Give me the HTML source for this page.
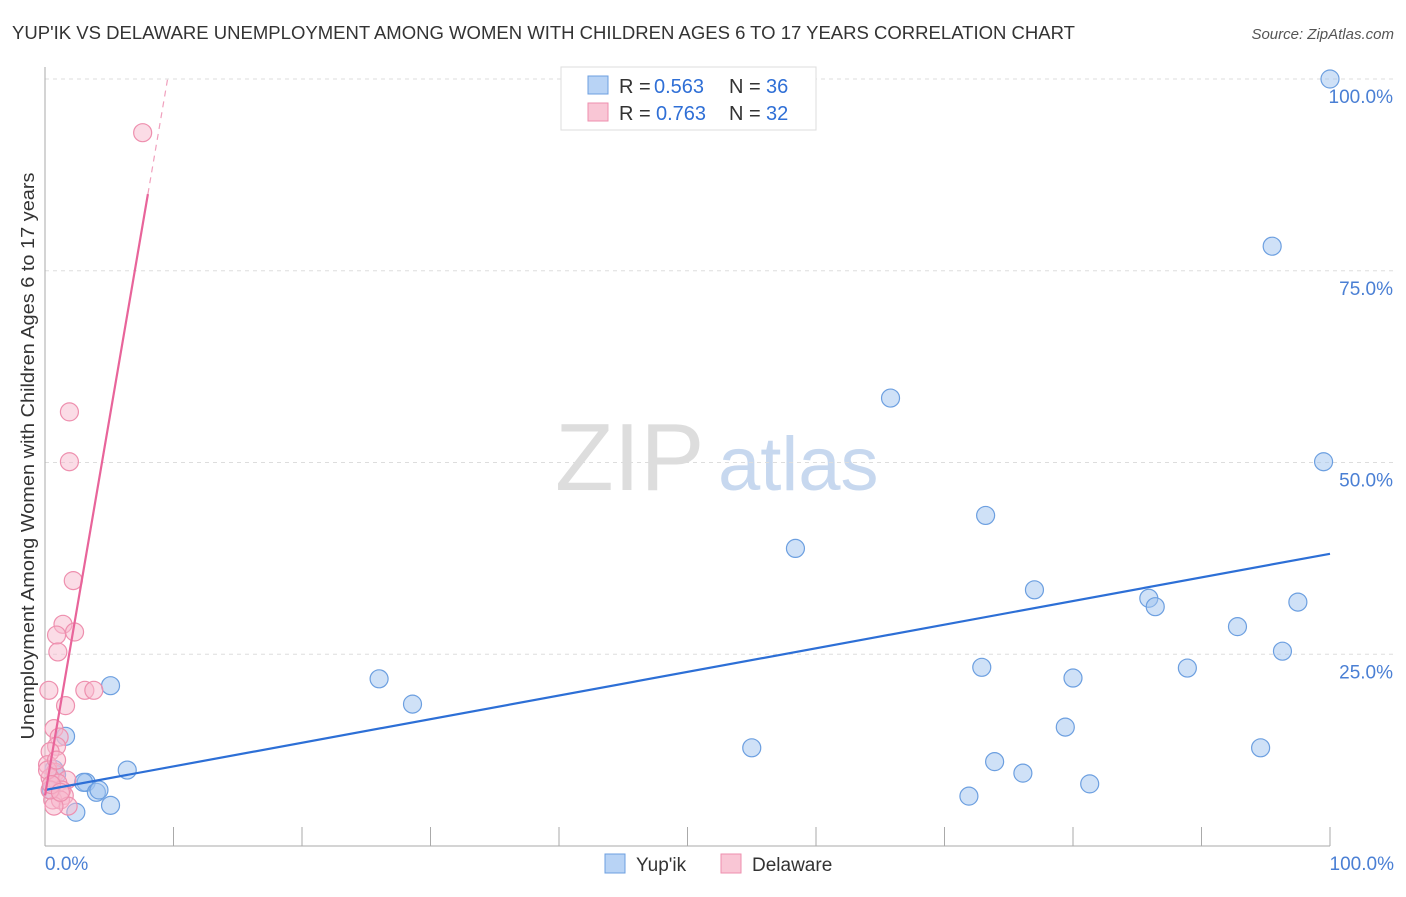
<!DOCTYPE html>
<html><head><meta charset="utf-8"><style>
body{margin:0;background:#fff;font-family:"Liberation Sans",sans-serif;}
svg text{font-family:"Liberation Sans",sans-serif;}
</style></head><body>
<svg id="c" width="1406" height="892">
<text x="12" y="39" font-size="18" fill="#333" textLength="1063" lengthAdjust="spacingAndGlyphs">YUP'IK VS DELAWARE UNEMPLOYMENT AMONG WOMEN WITH CHILDREN AGES 6 TO 17 YEARS CORRELATION CHART</text>
<text x="1394" y="39" font-size="15" fill="#555" font-style="italic" text-anchor="end">Source: ZipAtlas.com</text>
<text x="34" y="456" font-size="18" fill="#333" text-anchor="middle" textLength="567" lengthAdjust="spacingAndGlyphs" transform="rotate(-90 34 456)">Unemployment Among Women with Children Ages 6 to 17 years</text>
<text x="555" y="490" font-size="96" fill="#ddd" font-family="Liberation Serif">ZIP</text>
<text x="718" y="490" font-size="76" fill="#c7d8ef">atlas</text>
<g id="grid"></g><g id="axes"></g><g id="pts"></g><g id="trend"></g>
<g>
<rect x="561" y="67" width="255" height="63" fill="#fff" stroke="#ddd"/>
<rect x="588" y="76" width="20" height="18" fill="#b8d3f5" stroke="#6c9fe0"/>
<rect x="588" y="103" width="20" height="18" fill="#f9c6d5" stroke="#ee8fae"/>
<text x="619" y="93" font-size="20" fill="#333">R = </text><text x="654" y="93" font-size="20" fill="#2f6fd6">0.563</text>
<text x="729" y="93" font-size="20" fill="#333">N = </text><text x="766" y="93" font-size="20" fill="#2f6fd6">36</text>
<text x="619" y="120" font-size="20" fill="#333">R = </text><text x="656" y="120" font-size="20" fill="#2f6fd6">0.763</text>
<text x="729" y="120" font-size="20" fill="#333">N = </text><text x="766" y="120" font-size="20" fill="#2f6fd6">32</text>
</g>
<g>
<rect x="605" y="854" width="20" height="19" fill="#b8d3f5" stroke="#6c9fe0"/>
<text x="636" y="871" font-size="19" fill="#333">Yup'ik</text>
<rect x="721" y="854" width="20" height="19" fill="#f9c6d5" stroke="#ee8fae"/>
<text x="752" y="871" font-size="19" fill="#333">Delaware</text>
</g>
</svg>
<script>
const blueX=[100,95.5,65.8,99.5,73.2,58.4,77.0,85.9,86.4,97.5,92.8,96.3,72.9,88.9,80.0,26.0,28.6,5.1,79.4,55.0,94.6,1.6,73.9,76.1,6.4,0.7,81.3,71.9,3.2,3.0,4.0,4.2,5.1,2.4,0.5,0.9];
const blueY=[100,78.2,58.4,50.1,43.1,38.8,33.4,32.3,31.2,31.8,28.6,25.4,23.3,23.2,21.9,21.8,18.5,20.9,15.5,12.8,12.8,14.3,11.0,9.5,9.9,10.0,8.1,6.5,8.3,8.3,7.0,7.3,5.3,4.4,7.3,9.3];
const pinkX=[7.6,1.9,1.9,2.2,1.4,2.3,0.9,1.0,0.3,3.1,3.8,1.6,0.7,1.1,0.9,0.4,0.2,0.8,0.4,1.7,1.0,1.3,1.5,0.6,1.2,1.8,0.7,0.4,0.2,0.5,1.2,0.9];
const pinkY=[93.0,56.6,50.1,34.6,28.9,27.9,27.5,25.3,20.3,20.3,20.3,18.3,15.3,14.2,13.0,12.3,10.6,9.6,8.9,8.6,8.2,7.3,6.6,6.0,6.0,5.2,5.2,7.3,9.9,8.0,7.0,11.2];
const yTicks=[25,50,75,100];
const xTickLabels=["0.0%","100.0%"];
const blueTrend=[7.3,38.1];
const pinkTrend=[6.6,9.79];
const X=v=>45+v*12.85, Y=v=>846-v*7.67;
const NS="http://www.w3.org/2000/svg";
function mk(tag,attrs,parent){const e=document.createElementNS(NS,tag);for(const k in attrs)e.setAttribute(k,attrs[k]);document.getElementById(parent).appendChild(e);return e;}
yTicks.forEach(t=>{
 const l=mk('line',{x1:45,x2:1395,y1:Y(t),y2:Y(t),stroke:'#ddd','stroke-dasharray':'4,4'},'grid');
 
 
 const tx=mk('text',{x:1393,y:Y(t)+24,'font-size':19,fill:'#4a7fd4','text-anchor':'end'},'grid');
 tx.textContent=t.toFixed(1)+'%';
 
 
});
const ax=mk('line',{x1:45,x2:45,y1:67,y2:846,stroke:'#aaa'},'axes');


const bx=mk('line',{x1:45,x2:1330,y1:846,y2:846,stroke:'#aaa'},'axes');


for(let i=1;i<=10;i++){const t=mk('line',{x1:X(i*10),x2:X(i*10),y1:827,y2:846,stroke:'#aaa'},'axes');
 
 }
[[0,'start',45],[100,'end',1394]].forEach((d,i)=>{const t=mk('text',{x:d[2],y:870,'font-size':19,fill:'#4a7fd4','text-anchor':d[1]},'axes');t.textContent=xTickLabels[i];
 
 });
blueX.forEach((v,i)=>{const c=mk('circle',{cx:X(v),cy:Y(blueY[i]),r:9,fill:'rgba(160,195,240,0.5)',stroke:'#6c9fe0','stroke-width':1.2},'pts');
 
 });
pinkX.forEach((v,i)=>{const c=mk('circle',{cx:X(v),cy:Y(pinkY[i]),r:9,fill:'rgba(248,185,205,0.5)',stroke:'#ee8fae','stroke-width':1.2},'pts');
 
 });
const bl=mk('line',{x1:X(0),y1:Y(blueTrend[0]),x2:X(100),y2:Y(blueTrend[1]),stroke:'#2d6fd6','stroke-width':2.2},'trend');


const xe=(85-pinkTrend[0])/pinkTrend[1], xd=(100-pinkTrend[0])/pinkTrend[1];
const pl=mk('line',{x1:X(0),y1:Y(pinkTrend[0]),x2:X(xe),y2:Y(85),stroke:'#e8649a','stroke-width':2.2},'trend');


const pd=mk('line',{x1:X(xe),y1:Y(85),x2:X(xd),y2:Y(100),stroke:'#f0a0bd','stroke-width':1.2,'stroke-dasharray':'6,5'},'trend');


</script>
</body></html>
